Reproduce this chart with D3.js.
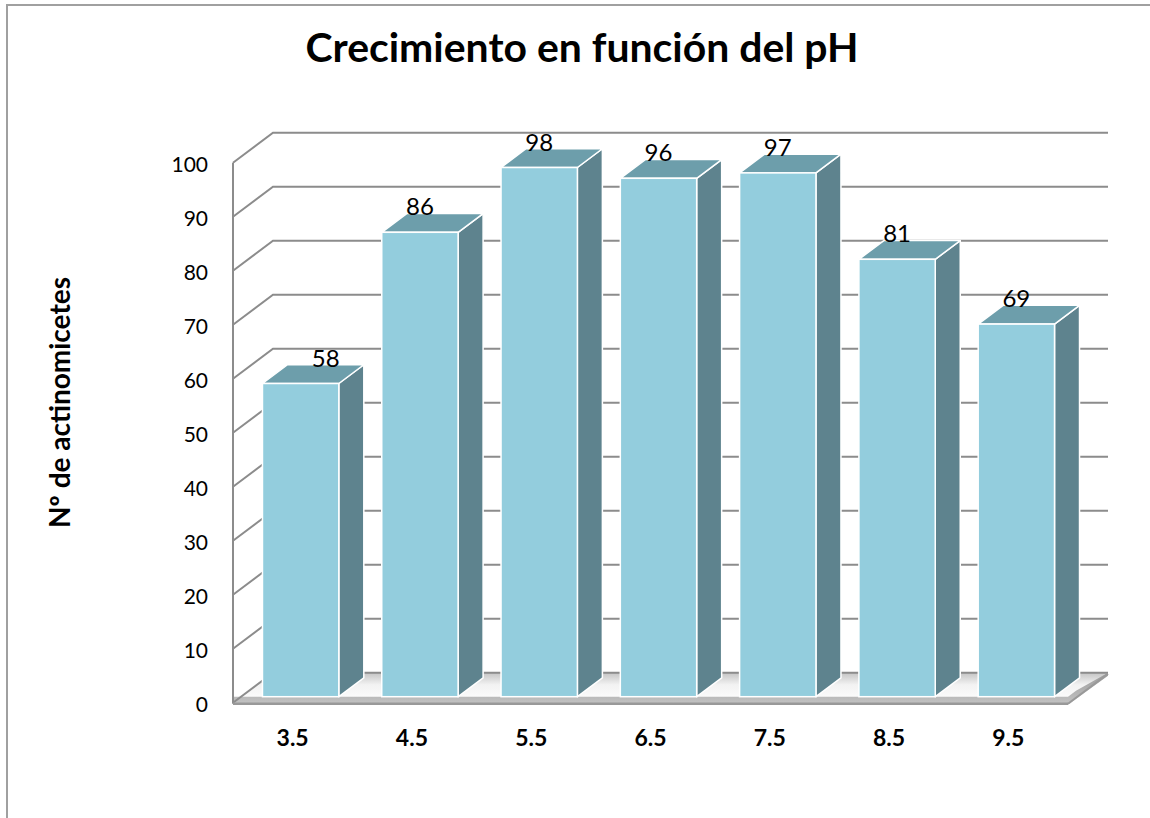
<!DOCTYPE html>
<html>
<head>
<meta charset="utf-8">
<script src="https://cdn.jsdelivr.net/npm/d3@7"></script>
<style>
  html, body { margin: 0; padding: 0; background: #fff; }
  svg { display: block; }
  text { font-family: Lato, "Open Sans", sans-serif; }
</style>
</head>
<body>
<svg id="chart" width="1150" height="818"></svg>
<script>
// ---- data ----
const categories = ["3.5", "4.5", "5.5", "6.5", "7.5", "8.5", "9.5"];
const values = [58, 86, 98, 96, 97, 81, 69];
const yTicks = [0, 10, 20, 30, 40, 50, 60, 70, 80, 90, 100];
const titleText = "Crecimiento en función del pH";
const yTitleText = "Nº de actinomicetes";

// ---- layout ----
const W = 1150, H = 818;
const svg = d3.select("#chart");
const x0 = 233, x1 = 1068;         // front plane x range
const depthX = 40, depthY = -30;   // back wall offset
const barDepthStart = 0.2, barDepthEnd = 0.825;

const x = d3.scaleBand().domain(categories).range([x0, x1]).padding(0);
const y = d3.scaleLinear().domain([0, 100]).range([702.7, 162.7]);
const barW = x.bandwidth() * 0.64;

const colFront = "#93cddd", colTop = "#6d9eab", colSide = "#5e838e";
const gridCol = "#8c8c8c";

// defs
const defs = svg.append("defs");
const fg = defs.append("linearGradient").attr("id", "floorGrad")
  .attr("x1", 0).attr("y1", 0).attr("x2", 0).attr("y2", 1);
fg.append("stop").attr("offset", "0%").attr("stop-color", "#c4c4c4");
fg.append("stop").attr("offset", "40%").attr("stop-color", "#f2f2f2");
fg.append("stop").attr("offset", "100%").attr("stop-color", "#ffffff");
const eg = defs.append("linearGradient").attr("id", "edgeGrad")
  .attr("x1", 0).attr("y1", 0).attr("x2", 0).attr("y2", 1);
eg.append("stop").attr("offset", "0%").attr("stop-color", "#9a9a9a");
eg.append("stop").attr("offset", "100%").attr("stop-color", "#c4c4c4");

function fit(t, target, scale) {
  const w = t.node().getComputedTextLength();
  const fs = +t.attr("font-size");
  t.attr("font-size", fs * target / w * (scale || 1));
}

// chart border (left + top)
svg.append("path")
  .attr("d", `M7,${H} L7,5 L${W},5`)
  .attr("fill", "none").attr("stroke", "#a0a0a0").attr("stroke-width", 2);

// title
const title = svg.append("text")
  .attr("x", 582).attr("y", 62)
  .attr("text-anchor", "middle")
  .attr("font-weight", "bold")
  .attr("font-size", 37)
  .attr("fill", "#000")
  .text(titleText);
fit(title, 532, 1.04);

// y axis title
const yt = svg.append("text")
  .attr("transform", "translate(70,402.5) rotate(-90)")
  .attr("text-anchor", "middle")
  .attr("font-weight", "bold")
  .attr("font-size", 24)
  .attr("fill", "#000")
  .text(yTitleText);
fit(yt, 251, 1.0);

// floor
const yz = y(0);
svg.append("path")
  .attr("d", `M${x0},${yz} L${x0 + depthX},${yz + depthY} L${x1 + depthX},${yz + depthY} L${x1},${yz} Z`)
  .attr("fill", "url(#floorGrad)");
svg.append("path")
  .attr("d", `M${x0},${yz - 6} L${x1},${yz - 6} L${x1 + 8},${yz - 12} L${x1 + depthX},${yz + depthY} L${x1 + depthX},${yz + depthY + 3} L${x1},${yz + 2} L${x0},${yz + 2} Z`)
  .attr("fill", "url(#edgeGrad)");

// gridlines: left wall diagonals + back wall horizontals
const grid = svg.append("g");
yTicks.forEach(t => {
  const yf = y(t);
  grid.append("path")
    .attr("d", `M${x0},${yf} L${x0 + depthX},${yf + depthY} L${x1 + depthX},${yf + depthY}`)
    .attr("fill", "none").attr("stroke", gridCol).attr("stroke-width", 2);
});
grid.append("line")
  .attr("x1", x0).attr("x2", x0)
  .attr("y1", y(100)).attr("y2", y(0) + 1)
  .attr("stroke", gridCol).attr("stroke-width", 2);
grid.append("line")
  .attr("x1", x0).attr("x2", x1)
  .attr("y1", y(0) + 1).attr("y2", y(0) + 1)
  .attr("stroke", "#999").attr("stroke-width", 2.5);
grid.append("line")
  .attr("x1", x1).attr("x2", x1 + depthX)
  .attr("y1", y(0) + 1).attr("y2", y(0) + 1 + depthY)
  .attr("stroke", "#999").attr("stroke-width", 2);

// y tick labels
svg.append("g").selectAll("text").data(yTicks).join("text")
  .attr("x", 208).attr("y", d => y(d) + 2)
  .attr("dy", "0.35em")
  .attr("text-anchor", "end")
  .attr("font-size", 21)
  .attr("fill", "#000")
  .text(d => d);

// x labels
svg.append("g").selectAll("text").data(categories).join("text")
  .attr("x", d => x(d) + x.bandwidth() / 2)
  .attr("y", 746)
  .attr("text-anchor", "middle")
  .attr("font-weight", "bold")
  .attr("font-size", 23)
  .attr("fill", "#000")
  .text(d => d);

// bars
const fdx = depthX * barDepthStart, fdy = depthY * barDepthStart;
const bdx = depthX * (barDepthEnd - barDepthStart), bdy = depthY * (barDepthEnd - barDepthStart);
const bars = svg.append("g").selectAll("g").data(categories.map((c, i) => ({ c, v: values[i], i }))).join("g");
bars.each(function(d) {
  const g = d3.select(this);
  const xl = x(d.c) + (x.bandwidth() - barW) / 2 + fdx;
  const xr = xl + barW;
  const yb = y(0) + fdy;
  const ytop = y(d.v) + fdy;
  g.append("path")
    .attr("d", `M${xr},${yb} L${xr + bdx},${yb + bdy} L${xr + bdx},${ytop + bdy} L${xr},${ytop} Z`)
    .attr("fill", colSide).attr("stroke", "#fff").attr("stroke-width", 1.5).attr("stroke-linejoin", "round");
  g.append("path")
    .attr("d", `M${xl},${ytop} L${xl + bdx},${ytop + bdy} L${xr + bdx},${ytop + bdy} L${xr},${ytop} Z`)
    .attr("fill", colTop).attr("stroke", "#fff").attr("stroke-width", 1.5).attr("stroke-linejoin", "round");
  g.append("rect")
    .attr("x", xl).attr("y", ytop).attr("width", barW).attr("height", yb - ytop)
    .attr("fill", colFront).attr("stroke", "#fff").attr("stroke-width", 1.5);
  // value label (first label sits over the top face, as in the reference)
  const lx = d.i === 0 ? xl + barW / 2 + bdx : xl + barW / 2;
  g.append("text")
    .attr("x", lx)
    .attr("y", ytop - 17)
    .attr("text-anchor", "middle")
    .attr("font-size", 24)
    .attr("fill", "#000")
    .text(d.v);
});
</script>
</body>
</html>
